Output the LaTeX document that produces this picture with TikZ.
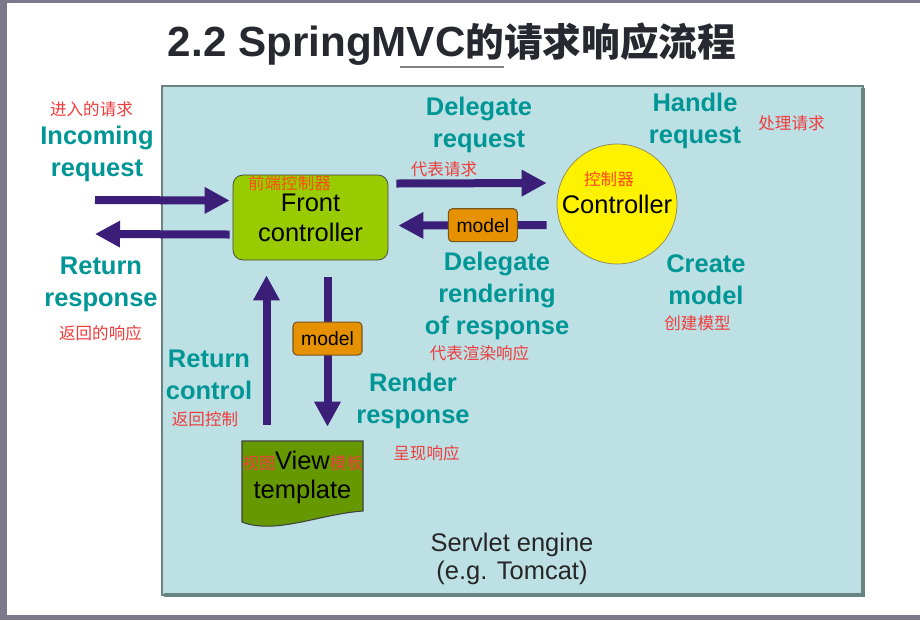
\documentclass[tikz,border=0pt]{standalone}
\usepackage{fontspec}
\setmainfont{Liberation Sans}
\newfontfamily\cjk{Noto Sans CJK SC}
\usetikzlibrary{positioning, arrows.meta, calc}

\definecolor{enginefill}{RGB}{188,224,228}
\definecolor{engineline}{RGB}{105,130,130}
\definecolor{tealtext}{RGB}{0,150,150}
\definecolor{cnred}{RGB}{240,60,60}
\definecolor{cnorange}{RGB}{255,75,20}
\definecolor{frontgreen}{RGB}{153,204,0}
\definecolor{viewgreen}{RGB}{102,153,0}
\definecolor{modelorange}{RGB}{230,145,0}
\definecolor{modelline}{RGB}{120,85,30}
\definecolor{flowpurple}{RGB}{58,30,120}
\definecolor{framegray}{RGB}{122,122,140}
\definecolor{titletext}{RGB}{40,40,48}

\begin{document}
\begin{tikzpicture}[x=0.02cm, y=-0.02cm,
  enlabel/.style={text=tealtext, font=\fontsize{14.5}{18.2}\selectfont\bfseries, align=center, inner sep=0pt},
  cnlabel/.style={text=cnred, font=\fontsize{9.4}{11}\selectfont\cjk, inner sep=0pt},
  flow/.style={flowpurple, line width=0.16cm, -{Triangle[length=0.5cm, width=0.5cm]}},
  modelbox/.style={draw=modelline, fill=modelorange, text=black, line width=0.6pt, rounded corners=0.08cm,
    minimum width=1.38cm, minimum height=0.66cm, inner sep=0pt, font=\fontsize{11}{13}\selectfont}]

% --- page and frame ---
\fill[framegray] (0,0) rectangle (920,620);
\fill[white] (7,3) rectangle (920,615);
\useasboundingbox (0,0) rectangle (920,620);

% --- title ---
\node[anchor=base, inner sep=0pt, text=titletext] (title) at (452,56)
  {\fontsize{24}{28}\selectfont\bfseries 2.2 SpringMVC{\cjk\fontsize{22}{26}\selectfont\bfseries 的请求响应流程}};
\draw[gray, line width=1.2pt] (400,67) -- (504,67);

% --- servlet engine ---
\draw[fill=enginefill, draw=engineline, line width=0.8pt] (162,86) rectangle (863,595);
\draw[engineline, line width=2pt] (863,88) -- (863,595) -- (164,595);
\node[font=\fontsize{14.5}{16}\selectfont, text=black!85, align=center] (engine) at (512,559)
  {Servlet engine\\(e.g. Tomcat)};

% --- front controller and controller ---
\node[draw=darkgray, fill=frontgreen, rounded corners=0.2cm, minimum width=3.1cm, minimum height=1.7cm,
  align=center, font=\fontsize{14.5}{17}\selectfont] (front) at (310.5,217.5) {Front\\controller};
\node[cnlabel, text=cnorange] (frontcn) at (289.5,183) {前端控制器};

\node[circle, draw=black!55!yellow!60!gray, fill=yellow, minimum size=2.4cm, inner sep=0pt,
  font=\fontsize{14.5}{17}\selectfont] (ctrl) at (617,204) {Controller};
\node[cnlabel, text=cnorange] (ctrlcn) at (609,179) {控制器};

% --- view template (wavy bottom) ---
\filldraw[fill=viewgreen, draw=darkgray, line width=0.6pt] (242,441) -- (363,441) -- (363,511)
  .. controls (320,514) and (275,535) .. (242,522) -- cycle;
\node[align=center, inner sep=0pt, minimum width=2.42cm, minimum height=1.44cm,
  font=\fontsize{14.5}{16.5}\selectfont] (view) at (302.5,477) {View\\template};
\node[cnlabel] (viewcn1) at (259,463) {视图};
\node[cnlabel] (viewcn2) at (346.5,463) {模板};

% --- flows ---
\coordinate (incoming) at (95,200);
\coordinate (outgoing) at (95,234);
\draw[flow] (incoming) -- ($(front.west)+(-3,-17)$);
\draw[flow] ($(front.west)+(-3,17)$) -- (outgoing);
\draw[flow] ($(front.east)+(8,-34)$) -- ($(ctrl.west)+(-10,-21)$);
\draw[flow] ($(ctrl.west)+(-10,21)$) -- ($(front.east)+(10,8)$) node[modelbox, pos=0.43] (model1) {model};
\draw[flow] ($(view.north)+(-36,-16)$) -- ($(front.south)+(-44,15)$);
\draw[flow] ($(front.south)+(17,17)$) -- ($(view.north)+(25,-14)$) node[modelbox, pos=0.41] (model2) {model};

% --- step labels ---
\node[enlabel] (inreq) at (97,154) {Incoming\\request};
\node[cnlabel] (inreqcn) at (91.5,109) {进入的请求};
\node[enlabel] (retresp) at (101,284) {Return\\response};
\node[cnlabel] (retrespcn) at (100.5,333) {返回的响应};
\node[enlabel] (delreq) at (479,125) {Delegate\\request};
\node[cnlabel] (delreqcn) at (444,169) {代表请求};
\node[enlabel] (handle) at (695,121) {Handle\\request};
\node[cnlabel] (handlecn) at (791.5,123) {处理请求};
\node[enlabel] (delrend) at (497,296) {Delegate\\rendering\\of response};
\node[cnlabel] (delrendcn) at (479.5,353) {代表渲染响应};
\node[enlabel] (create) at (706,280) {Create\\model};
\node[cnlabel] (createcn) at (697.5,323) {创建模型};
\node[enlabel] (retctrl) at (209,375) {Return\\control};
\node[cnlabel] (retctrlcn) at (205,419) {返回控制};
\node[enlabel] (render) at (413,401) {Render\\response};
\node[cnlabel] (rendercn) at (426.5,453) {呈现响应};

\end{tikzpicture}
\end{document}
